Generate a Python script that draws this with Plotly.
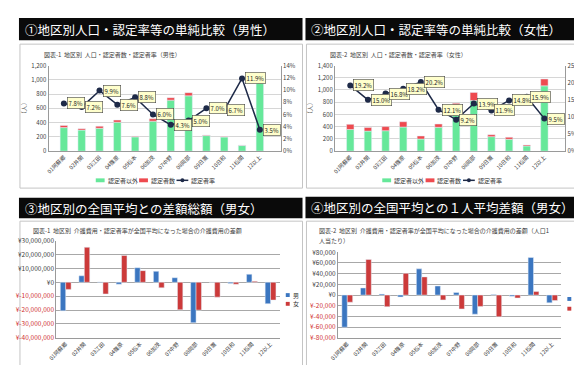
import plotly.graph_objects as go

W, H = 582, 365
def px(x): return x / W
def py(y): return 1 - y / H

categories = ["01阿蘇郷", "02井関", "03江田", "04篠原", "05松本", "06加茂",
              "07中野", "08岡部", "09日置", "10日和", "11松間", "12以上"]

# Panel 1 (male)
male_other = [330, 295, 320, 405, 200, 420, 715, 775, 218, 198, 78, 1040]
male_cert = [30, 20, 30, 30, 10, 35, 35, 45, 8, 8, 6, 40]
male_rate = [7.8, 7.2, 9.9, 7.6, 8.8, 6.0, 4.3, 5.0, 7.0, 6.7, 11.9, 3.5]

# Panel 2 (female)
female_other = [354, 328, 334, 394, 198, 390, 710, 827, 237, 193, 85, 1068]
female_cert = [84, 58, 67, 87, 50, 54, 72, 134, 32, 34, 16, 112]
female_rate = [19.2, 15.0, 16.8, 18.2, 20.2, 12.1, 9.2, 13.9, 11.9, 14.8, 15.9, 9.5]

# Panel 3 (total difference, yen)
total_m = [-20500000, 4700000, 300000, -1400000, 10500000, 7900000, 3300000,
           -29100000, 100000, -900000, 5800000, -15400000]
total_f = [-5100000, 25200000, -8400000, 19300000, 8400000, -4000000, -19800000,
           -20000000, -10700000, -1400000, 700000, -12800000]

# Panel 4 (per-person difference, yen)
per_m = [-60000, 13300, 1800, -3600, 49000, 17000, 4800, -35700, 1000, -2400, 70300, -14500]
per_f = [-13300, 66600, -21800, 40600, 34000, -9000, -26000, -21200, -40600, -5500, 6600, -10300]

ticks3 = list(range(-40000000, 30000001, 10000000))
ticks4 = list(range(-80000, 80001, 20000))

FONT = "Noto Sans CJK JP"
GREEN = "#66e89a"
RED = "#ee4a4f"
NAVY = "#1e2a48"
BLUE = "#3b76c0"
DRED = "#cc3a3a"

fig = go.Figure()

def yen_labels(vals):
    out = []
    for v in vals:
        s = "¥{:,}".format(v) if v >= 0 else "¥-{:,}".format(-v)
        if v < 0:
            s = "<span style='color:#d03030'>" + s + "</span>"
        out.append(s)
    return out

# ---- Panel 1 & 2 ----
for (xa, ya, ya2, other, cert, rate) in [
        ("x", "y", "y2", male_other, male_cert, male_rate),
        ("x2", "y3", "y4", female_other, female_cert, female_rate)]:
    fig.add_trace(go.Bar(x=categories, y=other, name="認定者以外", marker_color=GREEN,
                         xaxis=xa, yaxis=ya, width=0.42, offset=-0.21))
    fig.add_trace(go.Bar(x=categories, y=cert, base=other, name="認定者数", marker_color=RED,
                         xaxis=xa, yaxis=ya, width=0.42, offset=-0.21))
    fig.add_trace(go.Scatter(x=categories, y=rate, name="認定者率", mode="lines+markers",
                             line=dict(color=NAVY, width=1.5),
                             marker=dict(color=NAVY, size=6),
                             xaxis=xa, yaxis=ya2))
    for c, r in zip(categories, rate):
        fig.add_annotation(x=c, y=r, xref=xa, yref=ya2, text=f"{r:.1f}%",
                           showarrow=False, xanchor="left", yanchor="middle", xshift=3,
                           font=dict(size=6, color="#222", family=FONT),
                           bgcolor="#ffffcc", bordercolor="#444", borderwidth=0.6, borderpad=1)

# ---- Panel 3 & 4 ----
for (xa, ya, m, f) in [("x3", "y5", total_m, total_f), ("x4", "y6", per_m, per_f)]:
    fig.add_trace(go.Bar(x=categories, y=m, name="男", marker_color=BLUE,
                         xaxis=xa, yaxis=ya, width=0.29, offset=-0.29))
    fig.add_trace(go.Bar(x=categories, y=f, name="女", marker_color=DRED,
                         xaxis=xa, yaxis=ya, width=0.29, offset=0.0))

tickfont = dict(size=6, color="#404040", family=FONT)
tickfont2 = dict(size=6.5, color="#404040", family=FONT)
catfont = dict(size=5.5, color="#404040", family=FONT)

def xax(dom, anchor):
    return dict(domain=dom, anchor=anchor, tickangle=-45, tickfont=catfont,
                showline=True, linecolor="#9a9a9a", linewidth=1, ticks="",
                showgrid=False, fixedrange=True)

layout = dict(
    width=W, height=H, margin=dict(l=0, r=0, t=0, b=0),
    paper_bgcolor="white", plot_bgcolor="white",
    barmode="group", showlegend=False,
    font=dict(family=FONT),
    xaxis=xax([px(32), px(268)], "y"),
    yaxis=dict(domain=[py(141), py(53)], anchor="x", range=[0, 1200], dtick=200,
               tickformat=",d", tickfont=tickfont, showgrid=True, gridcolor="#d6d6d6",
               showline=True, linecolor="#9a9a9a", zeroline=False,
               title=dict(text="（人）", font=dict(size=6, color="#404040"), standoff=4)),
    yaxis2=dict(overlaying="y", side="right", anchor="x", range=[0, 14], dtick=2,
                ticksuffix="%", tickfont=tickfont, showgrid=False,
                showline=True, linecolor="#9a9a9a", zeroline=False),
    xaxis2=xax([px(323), px(557)], "y3"),
    yaxis3=dict(domain=[py(141), py(53)], anchor="x2", range=[0, 1400], dtick=200,
                tickformat=",d", tickfont=tickfont, showgrid=True, gridcolor="#d6d6d6",
                showline=True, linecolor="#9a9a9a", zeroline=False,
                title=dict(text="（人）", font=dict(size=6, color="#404040"), standoff=4)),
    yaxis4=dict(overlaying="y3", side="right", anchor="x2", range=[0, 25], dtick=5,
                ticksuffix="%", tickfont=tickfont, showgrid=False,
                showline=True, linecolor="#9a9a9a", zeroline=False),
    xaxis3=xax([px(40), px(267)], "y5"),
    yaxis5=dict(domain=[py(333), py(233)], anchor="x3", range=[-40000000, 30000000],
                tickvals=ticks3, ticktext=yen_labels(ticks3), tickfont=tickfont2,
                showgrid=True, gridcolor="#a8a8a8", zeroline=True, zerolinecolor="#a8a8a8",
                zerolinewidth=1, showline=True, linecolor="#9a9a9a"),
    xaxis4=xax([px(326), px(553)], "y6"),
    yaxis6=dict(domain=[py(333), py(245)], anchor="x4", range=[-80000, 80000],
                tickvals=ticks4, ticktext=yen_labels(ticks4), tickfont=tickfont2,
                showgrid=True, gridcolor="#a8a8a8", zeroline=True, zerolinecolor="#a8a8a8",
                zerolinewidth=1, showline=True, linecolor="#9a9a9a"),
)
fig.update_layout(**layout)

shapes = []
# chart boxes
for (x0, y0, x1, y1) in [(3, 31, 290, 179), (294, 31, 580, 179), (3, 213, 290, 362), (294, 213, 580, 362)]:
    shapes.append(dict(type="rect", xref="paper", yref="paper", x0=px(x0), x1=px(x1),
                       y0=py(y1), y1=py(y0), line=dict(color="#c4c4c4", width=1),
                       fillcolor="rgba(0,0,0,0)", layer="below"))
# black title bars
bars = [(2, 4, 290, 27), (293, 4, 581, 27), (2, 189, 290, 210), (293, 188, 581, 210)]
for (x0, y0, x1, y1) in bars:
    shapes.append(dict(type="rect", xref="paper", yref="paper", x0=px(x0), x1=px(x1),
                       y0=py(y1), y1=py(y0), line=dict(width=0), fillcolor="#0a0a0a",
                       layer="below"))

def legend_text(x, y, t):
    fig.add_annotation(x=px(x), y=py(y), xref="paper", yref="paper", text=t,
                       showarrow=False, xanchor="left", yanchor="middle",
                       font=dict(size=6, color="#333", family=FONT))

def swatch(x, y, color, w=9, h=4):
    shapes.append(dict(type="rect", xref="paper", yref="paper", x0=px(x), x1=px(x + w),
                       y0=py(y + h / 2), y1=py(y - h / 2), line=dict(width=0), fillcolor=color))

# legends panels 1 & 2
for dx in (0, 291):
    ly = 171
    swatch(80 + dx, ly, GREEN)
    legend_text(90 + dx, ly, "認定者以外")
    swatch(124 + dx, ly, RED)
    legend_text(134 + dx, ly, "認定者数")
    shapes.append(dict(type="line", xref="paper", yref="paper", x0=px(162 + dx), x1=px(174 + dx),
                       y0=py(ly), y1=py(ly), line=dict(color=NAVY, width=1.5)))
    shapes.append(dict(type="circle", xref="paper", yref="paper", x0=px(166 + dx), x1=px(170 + dx),
                       y0=py(ly + 2), y1=py(ly - 2), line=dict(width=0), fillcolor=NAVY))
    legend_text(175 + dx, ly, "認定者率")

# legends panels 3 & 4
for (lx, ly1, ly2) in [(273, 289, 298), (559, 293, 303)]:
    swatch(lx, ly1, BLUE, w=4, h=4)
    legend_text(lx + 5, ly1, "男")
    swatch(lx, ly2, DRED, w=4, h=4)
    legend_text(lx + 5, ly2, "女")

fig.update_layout(shapes=shapes)

titles = ["①地区別人口・認定率等の単純比較（男性）", "②地区別人口・認定率等の単純比較（女性）",
          "③地区別の全国平均との差額総額（男女）", "④地区別の全国平均との１人平均差額（男女）"]
for t, (x0, y0, x1, y1) in zip(titles, bars):
    fig.add_annotation(x=px(x0 + 4), y=py((y0 + y1) / 2), xref="paper", yref="paper",
                       text=t, showarrow=False, xanchor="left", yanchor="middle",
                       font=dict(size=12.5, color="white", family=FONT))

subs = [(25, 42, "図表-1  地区別  人口・認定者数・認定者率（男性）"),
        (316, 42, "図表-2  地区別  人口・認定者数・認定者率（女性）"),
        (14, 223, "図表-1  地区別  介護費用・認定者率が全国平均になった場合の介護費用の差額"),
        (305, 223, "図表-2  地区別  介護費用・認定者率が全国平均になった場合の介護費用の差額（人口1"),
        (305, 233, "人当たり）")]
for (x, y, t) in subs:
    fig.add_annotation(x=px(x), y=py(y), xref="paper", yref="paper", text=t,
                       showarrow=False, xanchor="left", yanchor="middle",
                       font=dict(size=6, color="#404040", family=FONT))

fig.write_html("out.html")
